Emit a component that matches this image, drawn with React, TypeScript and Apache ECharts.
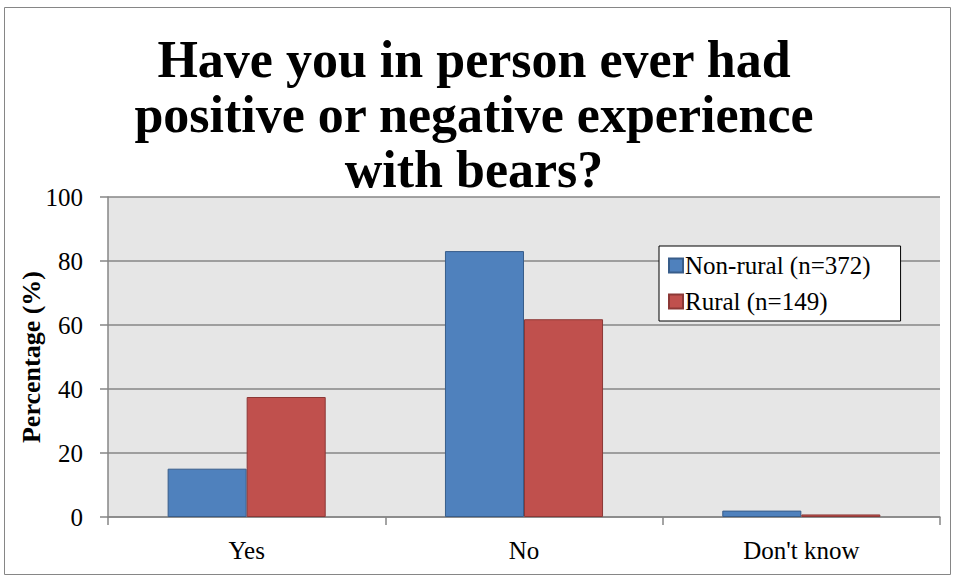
import React, { useEffect, useRef } from "react";
import * as echarts from "echarts";

const categories = ["Yes", "No", "Don't know"];
const nonRural = [15.1, 83.1, 2.0];
const rural = [37.5, 61.8, 0.8];
const seriesNames = ["Non-rural (n=372)", "Rural (n=149)"];
const titleText = "Have you in person ever had\npositive or negative experience\nwith bears?";
const yAxisName = "Percentage (%)";

const FONT = "'Liberation Serif', 'DejaVu Serif', serif";

export default function App() {
  const ref = useRef<HTMLDivElement>(null);
  useEffect(() => {
    if (!ref.current) return;
    const chart = echarts.init(ref.current, undefined, { renderer: "svg" });
    chart.setOption({
      animation: false,
      backgroundColor: "#ffffff",
      title: {
        text: titleText,
        left: 469,
        textAlign: "center",
        top: 27,
        textStyle: {
          fontFamily: FONT,
          fontWeight: "bold",
          fontSize: 52,
          lineHeight: 55,
          color: "#000",
        },
      },
      graphic: [
        {
          type: "rect",
          shape: { x: 4.5, y: 7.5, width: 946, height: 567 },
          style: { fill: "none", stroke: "#868686", lineWidth: 1 },
          silent: true,
        },
      ],
      legend: {
        orient: "vertical",
        left: 659,
        top: 246,
        backgroundColor: "#ffffff",
        borderColor: "#000000",
        borderWidth: 1,
        padding: [7, 30, 7, 9],
        itemGap: 11,
        itemWidth: 14,
        itemHeight: 14,
        icon: "rect",
        textStyle: { fontFamily: FONT, fontSize: 25, color: "#000", padding: [0, 0, 0, -3] },
        data: seriesNames,
      },
      grid: { left: 108, right: 15, top: 197, bottom: 62 },
      xAxis: {
        type: "category",
        data: categories,
        axisLine: { lineStyle: { color: "#868686", width: 1.5 } },
        axisTick: { show: true, length: 8, lineStyle: { color: "#868686", width: 1.5 } },
        axisLabel: { fontFamily: FONT, fontSize: 25, color: "#000", margin: 21 },
      },
      yAxis: {
        type: "value",
        min: 0,
        max: 100,
        interval: 20,
        name: yAxisName,
        nameLocation: "middle",
        nameGap: 64,
        nameMoveOverlap: false,
        nameTextStyle: { fontFamily: FONT, fontSize: 26, fontWeight: "bold", color: "#000" },
        axisLine: { show: true, lineStyle: { color: "#868686", width: 1.5 } },
        axisTick: { show: true, length: 8, lineStyle: { color: "#868686", width: 1.5 } },
        splitLine: { lineStyle: { color: "#868686", width: 1.5 } },
        splitArea: { show: true, areaStyle: { color: ["#e6e6e6", "#e6e6e6"] } },
        axisLabel: { fontFamily: FONT, fontSize: 25, color: "#000", margin: 25 },
      },
      series: [
        {
          name: seriesNames[0],
          type: "bar",
          data: nonRural,
          barGap: "0%",
          barCategoryGap: "43%",
          itemStyle: { color: "#4f81bd", borderColor: "#385d8a", borderWidth: 1 },
        },
        {
          name: seriesNames[1],
          type: "bar",
          data: rural,
          itemStyle: { color: "#c0504d", borderColor: "#8c3836", borderWidth: 1 },
        },
      ],
    });
    return () => chart.dispose();
  }, []);
  return (
    <div
      ref={ref}
      style={{ position: "absolute", left: 0, top: 0, width: 955, height: 579 }}
    />
  );
}
